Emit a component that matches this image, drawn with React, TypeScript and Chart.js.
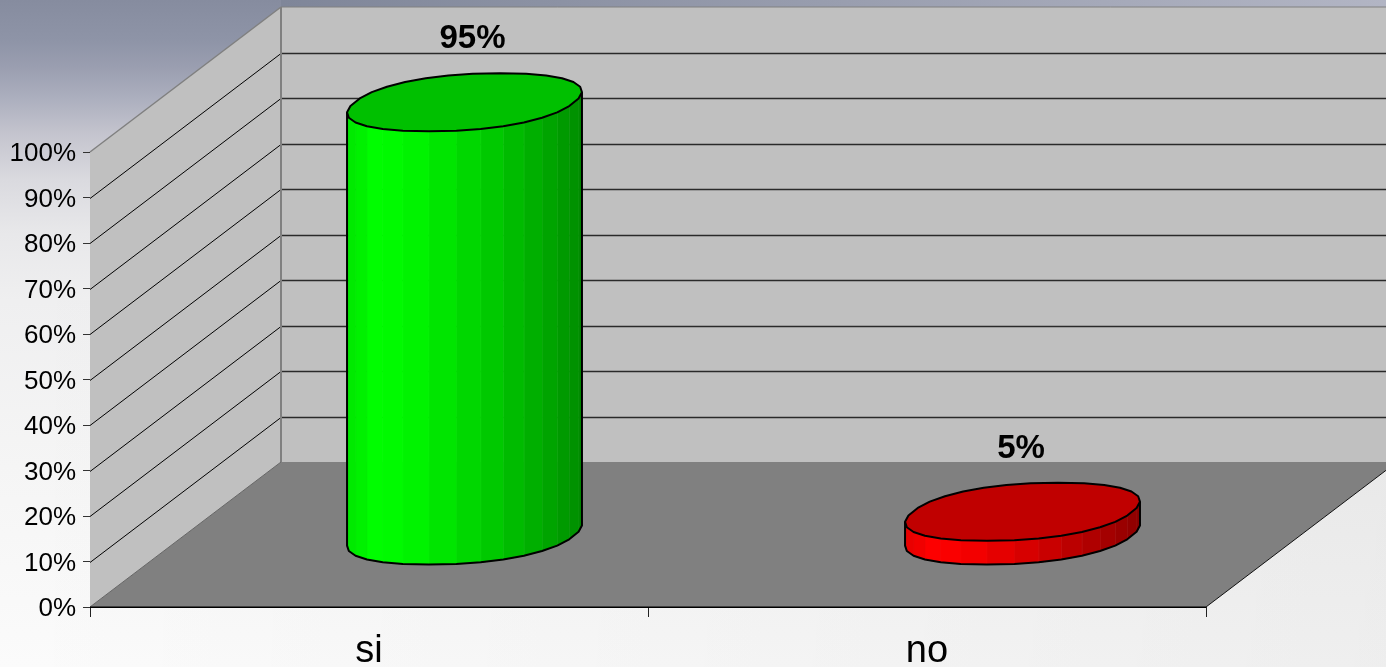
import React, { useEffect, useRef } from "react";
import { Chart, registerables } from "chart.js";

Chart.register(...registerables);

const categories = ["si", "no"];
const values = [95, 5];
const valueLabels = ["95%", "5%"];
const yTicks = [0, 10, 20, 30, 40, 50, 60, 70, 80, 90, 100];

const DX = 191;
const DY = 145;
const FONT = '"Liberation Sans", Arial, sans-serif';
const FACETS = 30;

function lerpStops(stops: number[][], f: number) {
  for (let i = 1; i < stops.length; i++) {
    if (f <= stops[i][0]) {
      const a = stops[i - 1], b = stops[i];
      const k = (f - a[0]) / (b[0] - a[0]);
      return a[1] + (b[1] - a[1]) * k;
    }
  }
  return stops[stops.length - 1][1];
}
const shade = [[0, 0.9], [0.13, 1], [0.3, 0.95], [0.6, 0.8], [0.85, 0.65], [1, 0.55]];

const threeD = {
  id: "threeD",
  beforeDraw(chart: any) {
    const { ctx, width, height } = chart;
    ctx.save();
    const g = ctx.createLinearGradient(0, 0, 0, height);
    g.addColorStop(0, "#868c9f");
    g.addColorStop(0.06, "#8e94a7");
    g.addColorStop(0.1, "#9a9eb0");
    g.addColorStop(0.15, "#adb0bf");
    g.addColorStop(0.2, "#c4c4ce");
    g.addColorStop(0.27, "#dadadf");
    g.addColorStop(0.35, "#e8e8ea");
    g.addColorStop(0.45, "#efeff0");
    g.addColorStop(0.7, "#f5f5f5");
    g.addColorStop(1, "#fbfbfb");
    ctx.fillStyle = g;
    ctx.fillRect(0, 0, width, height);
    const t = ctx.createLinearGradient(281, 0, width, 0);
    t.addColorStop(0, "#7f8699");
    t.addColorStop(1, "#b2b5c4");
    ctx.fillStyle = t;
    ctx.fillRect(281, 0, width - 281, 8);
    const d = ctx.createLinearGradient(0, 0, width, 0);
    d.addColorStop(0, "rgba(0,0,0,0)");
    d.addColorStop(1, "rgba(0,0,0,0.05)");
    ctx.fillStyle = d;
    ctx.fillRect(0, 300, width, height - 300);
    ctx.restore();
  },
  beforeDatasetsDraw(chart: any) {
    const { ctx, width, scales } = chart;
    const x = scales.x, y = scales.y;
    const L = x.left, R = x.right;
    const T = y.getPixelForValue(100), B = y.getPixelForValue(0);
    ctx.save();
    ctx.fillStyle = "#c0c0c0";
    ctx.fillRect(L + DX, T - DY, R - L, B - T);
    ctx.beginPath();
    ctx.moveTo(L, T); ctx.lineTo(L + DX, T - DY); ctx.lineTo(L + DX, B - DY); ctx.lineTo(L, B);
    ctx.closePath(); ctx.fill();
    ctx.fillStyle = "#808080";
    ctx.beginPath();
    ctx.moveTo(L, B); ctx.lineTo(L + DX, B - DY); ctx.lineTo(R + DX, B - DY); ctx.lineTo(R, B);
    ctx.closePath(); ctx.fill();
    ctx.strokeStyle = "#808080"; ctx.lineWidth = 1;
    ctx.beginPath(); ctx.moveTo(L + DX, T - DY); ctx.lineTo(width + 20, T - DY); ctx.stroke();
    for (const v of yTicks) {
      if (v === 0 || v === 100) continue;
      const p = Math.round(y.getPixelForValue(v)) + 0.5;
      ctx.strokeStyle = "#000"; ctx.lineWidth = 1;
      ctx.beginPath();
      ctx.moveTo(L, p); ctx.lineTo(L + DX, p - DY);
      ctx.stroke();
      ctx.strokeStyle = "#2a2a2a"; ctx.lineWidth = 1.3;
      ctx.beginPath();
      ctx.moveTo(L + DX, p - DY); ctx.lineTo(width + 20, p - DY);
      ctx.stroke();
    }
    ctx.strokeStyle = "#808080"; ctx.lineWidth = 1.5;
    ctx.beginPath(); ctx.moveTo(L, T); ctx.lineTo(L + DX, T - DY); ctx.stroke();
    ctx.lineWidth = 2;
    ctx.beginPath(); ctx.moveTo(L + DX, T - DY); ctx.lineTo(L + DX, B - DY); ctx.stroke();
    ctx.strokeStyle = "#666"; ctx.lineWidth = 1;
    ctx.beginPath(); ctx.moveTo(L, B); ctx.lineTo(L + DX, B - DY); ctx.stroke();
    ctx.strokeStyle = "#111";
    ctx.beginPath(); ctx.moveTo(R, B); ctx.lineTo(R + DX, B - DY); ctx.stroke();
    ctx.restore();
  },
  afterDatasetsDraw(chart: any) {
    const { ctx, scales } = chart;
    const y = scales.y;
    const meta = chart.getDatasetMeta(0);
    const zero = y.getPixelForValue(0);
    const colors = [[0, 255, 0], [255, 0, 0]];
    const tops = ["#00c000", "#c00000"];
    const nudges = [8, -1.5];
    ctx.save();
    values.forEach((v, idx) => {
      const bar = meta.data[idx];
      const cx = bar.x + DX / 2;
      const half = bar.width / 2;
      const base = zero - DY / 2 + 1;
      const top = y.getPixelForValue(v) - DY / 2;
      const dy = 29, dx = 38, pow = 0.9;
      const raw: number[][] = [];
      for (let i = 0; i < FACETS; i++) {
        const t = ((i + 0.5) / FACETS) * Math.PI * 2;
        const u = Math.sign(Math.cos(t)) * Math.pow(Math.abs(Math.cos(t)), pow);
        const w = Math.sign(Math.sin(t)) * Math.pow(Math.abs(Math.sin(t)), pow);
        raw.push([half * u - dx * w, dy * w]);
      }
      const maxX = Math.max(...raw.map(p => Math.abs(p[0])));
      const maxY = Math.max(...raw.map(p => Math.abs(p[1])));
      const pts = raw.map(p => [(p[0] * half) / maxX, (p[1] * dy) / maxY]);
      let iR = 0, iL = 0;
      pts.forEach((p, i) => { if (p[0] > pts[iR][0]) iR = i; if (p[0] < pts[iL][0]) iL = i; });
      const front: number[][] = [];
      for (let i = iR; ; i = (i + 1) % FACETS) { front.push(pts[i]); if (i === iL) break; }
      const [cr, cg, cb] = colors[idx];
      ctx.lineJoin = "round";
      for (let i = 0; i < front.length - 1; i++) {
        const p = front[i], q = front[i + 1];
        const f = ((p[0] + q[0]) / 2 + half) / (2 * half);
        const s = lerpStops(shade, f);
        const col = `rgb(${Math.round(cr * s)},${Math.round(cg * s)},${Math.round(cb * s)})`;
        ctx.fillStyle = col;
        ctx.strokeStyle = col;
        ctx.lineWidth = 0.7;
        ctx.beginPath();
        ctx.moveTo(cx + p[0], base + p[1]);
        ctx.lineTo(cx + q[0], base + q[1]);
        ctx.lineTo(cx + q[0], top + q[1]);
        ctx.lineTo(cx + p[0], top + p[1]);
        ctx.closePath();
        ctx.fill();
        ctx.stroke();
        if (f > 0.55) {
          ctx.strokeStyle = "rgba(255,255,255,0.13)";
          ctx.lineWidth = 1;
          ctx.beginPath();
          ctx.moveTo(cx + q[0], base + q[1]);
          ctx.lineTo(cx + q[0], top + q[1]);
          ctx.stroke();
        }
      }
      ctx.strokeStyle = "#000";
      ctx.lineWidth = 2;
      ctx.beginPath();
      ctx.moveTo(cx + front[0][0], top + front[0][1]);
      front.forEach(p => ctx.lineTo(cx + p[0], base + p[1]));
      ctx.lineTo(cx + front[front.length - 1][0], top + front[front.length - 1][1]);
      ctx.stroke();
      ctx.fillStyle = tops[idx];
      ctx.beginPath();
      pts.forEach((p, i) => {
        if (i === 0) ctx.moveTo(cx + p[0], top + p[1]);
        else ctx.lineTo(cx + p[0], top + p[1]);
      });
      ctx.closePath(); ctx.fill(); ctx.stroke();
      ctx.fillStyle = "#000";
      ctx.font = `bold 33px ${FONT}`;
      ctx.textAlign = "center";
      ctx.textBaseline = "middle";
      ctx.fillText(valueLabels[idx], cx + nudges[idx], top - 63);
    });
    ctx.restore();
  },
  afterDraw(chart: any) {
    const { ctx, scales } = chart;
    const x = scales.x, y = scales.y;
    const B = y.getPixelForValue(0);
    ctx.save();
    ctx.strokeStyle = "#000"; ctx.lineWidth = 1.5;
    ctx.beginPath(); ctx.moveTo(x.left, B + 0.25); ctx.lineTo(x.right, B + 0.25); ctx.stroke();
    ctx.restore();
  },
};

export default function App() {
  const ref = useRef<HTMLCanvasElement>(null);
  useEffect(() => {
    document.body.style.margin = "0";
    const chart = new Chart(ref.current as HTMLCanvasElement, {
      type: "bar",
      data: {
        labels: categories,
        datasets: [{
          data: values,
          backgroundColor: "rgba(0,0,0,0)",
          borderWidth: 0,
          barPercentage: 0.421,
          categoryPercentage: 1,
        }],
      },
      plugins: [threeD],
      options: {
        animation: false,
        responsive: false,
        layout: { padding: { top: 152, right: 180, left: 0, bottom: 0 } },
        plugins: { legend: { display: false }, tooltip: { enabled: false }, title: { display: false } },
        scales: {
          x: {
            afterFit: (s: any) => { s.height = 60; },
            grid: { drawOnChartArea: false, color: "#222", tickLength: 10, lineWidth: 1 },
            border: { display: false },
            ticks: { color: "#000", font: { family: FONT, size: 38 }, padding: 12, maxRotation: 0 },
          },
          y: {
            min: 0,
            max: 100,
            afterFit: (s: any) => { s.width = 90; },
            grid: { drawOnChartArea: false, color: "#333", tickLength: 7, lineWidth: 1 },
            border: { display: true, color: "#444", width: 1 },
            ticks: {
              stepSize: 10,
              color: "#000",
              padding: 7,
              labelOffset: 2,
              font: { family: FONT, size: 26 },
              callback: (v: any) => `${v}%`,
            },
          },
        },
      },
    } as any);
    return () => chart.destroy();
  }, []);
  return <canvas ref={ref} width={1386} height={667} style={{ display: "block" }} />;
}
